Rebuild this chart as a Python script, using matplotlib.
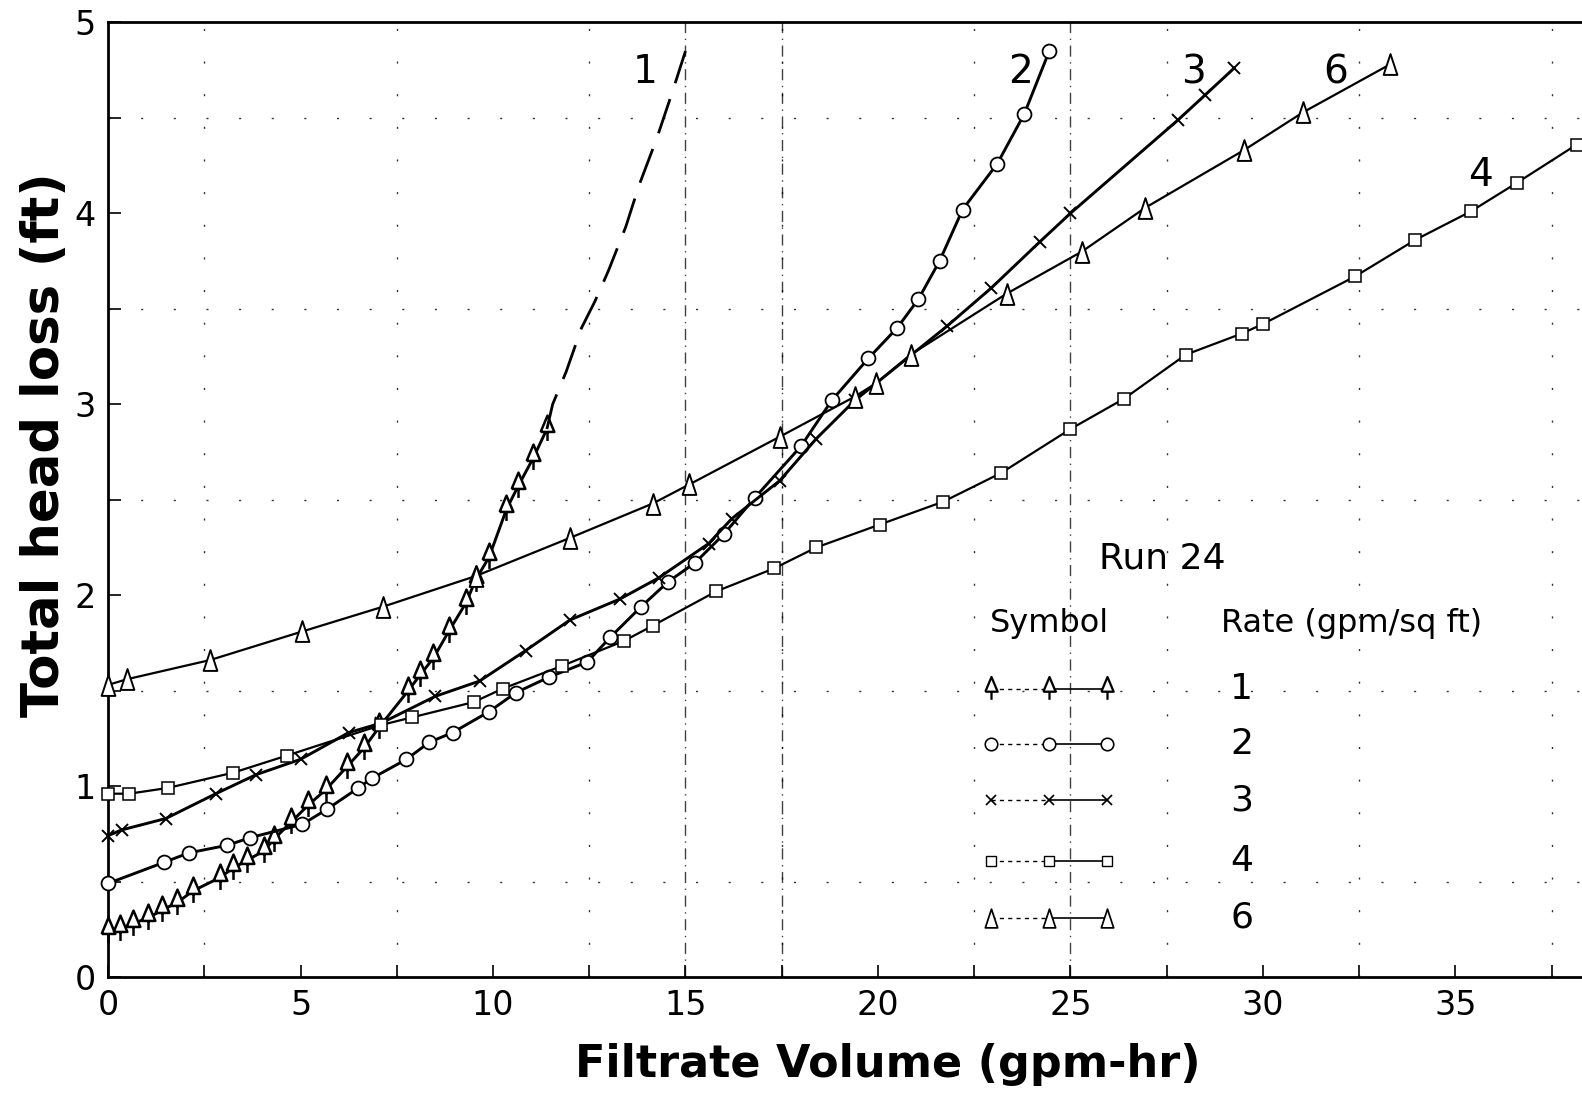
import matplotlib
matplotlib.use('Agg')
from matplotlib import pyplot as plt
from matplotlib.path import Path

# data: filtrate volume (gpm-hr) vs total head loss (ft), Run 24
vol_r1 = [0, 0.3, 0.65, 1.05, 1.4, 1.8, 2.2, 2.9, 3.25, 3.6, 4.05, 4.3, 4.75, 5.2, 5.65,
          6.2, 6.65, 7.05, 7.8, 8.1, 8.45, 8.85, 9.3, 9.55, 9.9, 10.35, 10.65, 11.05, 11.4]
loss_r1 = [0.24, 0.25, 0.28, 0.31, 0.35, 0.39, 0.45, 0.52, 0.57, 0.61, 0.66, 0.72, 0.81, 0.9, 0.98,
           1.1, 1.2, 1.31, 1.5, 1.58, 1.67, 1.81, 1.96, 2.08, 2.2, 2.45, 2.57, 2.72, 2.87]
# dashed extrapolation of rate 1
vol_r1_ext = [11.4, 11.55, 11.9, 12.3, 12.65, 13.0, 13.45, 13.8, 14.25, 14.65, 15.0]
loss_r1_ext = [2.87, 3.0, 3.17, 3.4, 3.54, 3.7, 3.93, 4.15, 4.39, 4.63, 4.85]

vol_r2 = [0, 1.45, 2.1, 3.1, 3.7, 5.05, 5.7, 6.5, 6.85, 7.75, 8.35, 8.95, 9.9, 10.6, 11.45,
          12.45, 13.05, 13.85, 14.55, 15.25, 16.0, 16.8, 18.0, 18.8, 19.75, 20.5, 21.05,
          21.6, 22.2, 23.1, 23.8, 24.45]
loss_r2 = [0.49, 0.6, 0.65, 0.69, 0.73, 0.8, 0.88, 0.99, 1.04, 1.14, 1.23, 1.28, 1.39, 1.49, 1.57,
           1.65, 1.78, 1.94, 2.07, 2.17, 2.32, 2.51, 2.78, 3.02, 3.24, 3.4, 3.55,
           3.75, 4.02, 4.26, 4.52, 4.85]

vol_r3 = [0, 0.35, 1.5, 2.8, 3.85, 5.0, 6.25, 7.1, 8.5, 9.65, 10.85, 12.0, 13.3, 14.3, 15.6,
          16.2, 17.45, 18.4, 19.4, 21.8, 22.95, 24.2, 25.0, 27.8, 28.5, 29.25]
loss_r3 = [0.74, 0.77, 0.83, 0.96, 1.06, 1.14, 1.28, 1.33, 1.47, 1.55, 1.71, 1.87, 1.98, 2.09, 2.27,
           2.4, 2.6, 2.82, 3.02, 3.41, 3.61, 3.85, 4.0, 4.49, 4.62, 4.76]

vol_r4 = [0, 0.55, 1.55, 3.25, 4.65, 7.1, 7.9, 9.5, 10.25, 11.8, 13.4, 14.15, 15.8, 17.3,
          18.4, 20.05, 21.7, 23.2, 25.0, 26.4, 28.0, 29.45, 30.0, 32.4, 33.95, 35.4, 36.6, 38.15]
loss_r4 = [0.96, 0.96, 0.99, 1.07, 1.16, 1.32, 1.36, 1.44, 1.51, 1.63, 1.76, 1.84, 2.02, 2.14,
           2.25, 2.37, 2.49, 2.64, 2.87, 3.03, 3.26, 3.37, 3.42, 3.67, 3.86, 4.01, 4.16, 4.36]

vol_r6 = [0, 0.5, 2.65, 5.05, 7.15, 9.55, 12.0, 14.15, 15.1, 17.45, 19.4, 19.95, 20.85,
          23.35, 25.3, 26.95, 29.5, 31.05, 33.3]
loss_r6 = [1.53, 1.56, 1.66, 1.81, 1.94, 2.1, 2.3, 2.48, 2.58, 2.83, 3.04, 3.11, 3.26,
           3.58, 3.8, 4.03, 4.33, 4.53, 4.78]

rate_labels = ['1', '2', '3', '4', '6']

# marker shapes: triangle on a stem for rate 1, tall open triangle for rate 6
arrow_tri = Path([(-0.42, -0.15), (0.42, -0.15), (0, 0.85), (-0.42, -0.15),
                  (0, -0.15), (0, -0.7)],
                 [Path.MOVETO, Path.LINETO, Path.LINETO, Path.LINETO,
                  Path.MOVETO, Path.LINETO])
tall_tri = Path([(-0.33, -0.5), (0.33, -0.5), (0, 0.5), (-0.33, -0.5)],
                [Path.MOVETO, Path.LINETO, Path.LINETO, Path.CLOSEPOLY])

styles = {
    '1': dict(marker=arrow_tri, ms=20, mew=1.8),
    '2': dict(marker='o', ms=10, mew=1.3),
    '3': dict(marker='x', ms=8, mew=1.4),
    '4': dict(marker='s', ms=8, mew=1.1),
    '6': dict(marker=tall_tri, ms=15, mew=1.4),
}

plt.rcParams['font.family'] = 'DejaVu Sans'

fig = plt.figure(figsize=(15.82, 10.95), dpi=100)
ax = fig.add_axes([0.0683, 0.1078, 0.9317, 0.8717])

# background grid of sparse dots, heavier dash-dot verticals
ax.set_xticks([i * 2.5 for i in range(16)], minor=True)
ax.set_yticks([i * 0.5 for i in range(11)], minor=True)
ax.grid(True, which='minor', color='k', lw=1.0, ls=(0, (1.5, 22)), alpha=0.8)
for xv in (15, 17.5, 25):
    ax.axvline(xv, color='k', lw=1.0, ls=(0, (8, 4, 1, 4)), alpha=0.75, zorder=1)

series = [
    ('1', vol_r1, loss_r1),
    ('2', vol_r2, loss_r2),
    ('3', vol_r3, loss_r3),
    ('4', vol_r4, loss_r4),
    ('6', vol_r6, loss_r6),
]
for lab, xs, ys in series:
    st = styles[lab]
    ax.plot(xs, ys, color='k', lw=2.1 if lab in '123' else 1.6, zorder=3,
            marker=st['marker'], ms=st['ms'], mew=st['mew'],
            mfc='white', mec='k', clip_on=False)

ax.plot(vol_r1_ext, loss_r1_ext, color='k', lw=2.0, ls=(0, (13, 6)), zorder=3)

# curve labels
for lab, (tx, ty) in zip(['1', '2', '3', '6', '4'],
                         [(13.95, 4.74), (23.7, 4.74), (28.2, 4.74), (31.9, 4.74), (35.65, 4.2)]):
    ax.text(tx, ty, lab, fontsize=28, ha='center', va='center')

# hand-drawn style key
ax.text(27.4, 2.19, 'Run 24', fontsize=26, ha='center', va='center')
ax.text(24.45, 1.85, 'Symbol', fontsize=23, ha='center', va='center')
ax.text(28.9, 1.85, 'Rate (gpm/sq ft)', fontsize=23, ha='left', va='center')
key_x = [22.95, 24.45, 25.95]
key_y = [1.51, 1.22, 0.925, 0.61, 0.31]
for lab, ky in zip(rate_labels, key_y):
    st = styles[lab]
    ax.plot(key_x[:2], [ky, ky], color='k', lw=1.0, ls=(0, (3, 3)), zorder=3)
    ax.plot(key_x[1:], [ky, ky], color='k', lw=1.2, zorder=3)
    ax.plot(key_x, [ky] * 3, ls='none', marker=st['marker'], ms=st['ms'] * 0.9,
            mew=st['mew'] * 0.9, mfc='white', mec='k', zorder=4)
    ax.text(29.45, ky, lab, fontsize=26, ha='center', va='center')

ax.set_xlim(0, 38.29)
ax.set_ylim(0, 5)
ax.set_xticks([0, 5, 10, 15, 20, 25, 30, 35])
ax.set_yticks([0, 1, 2, 3, 4, 5])
ax.tick_params(which='both', direction='in', length=9, width=1.2)
ax.tick_params(axis='both', labelsize=24, pad=9)
ax.spines['right'].set_visible(False)
for sp in ('left', 'bottom', 'top'):
    ax.spines[sp].set_linewidth(2.0)

fig.text(0.561, 0.028, 'Filtrate Volume (gpm-hr)', fontsize=32, fontweight='bold',
         ha='center', va='center')
fig.text(0.0287, 0.594, 'Total head loss (ft)', fontsize=37, fontweight='bold',
         ha='center', va='center', rotation=90)

fig.savefig('out.png', dpi=100)
